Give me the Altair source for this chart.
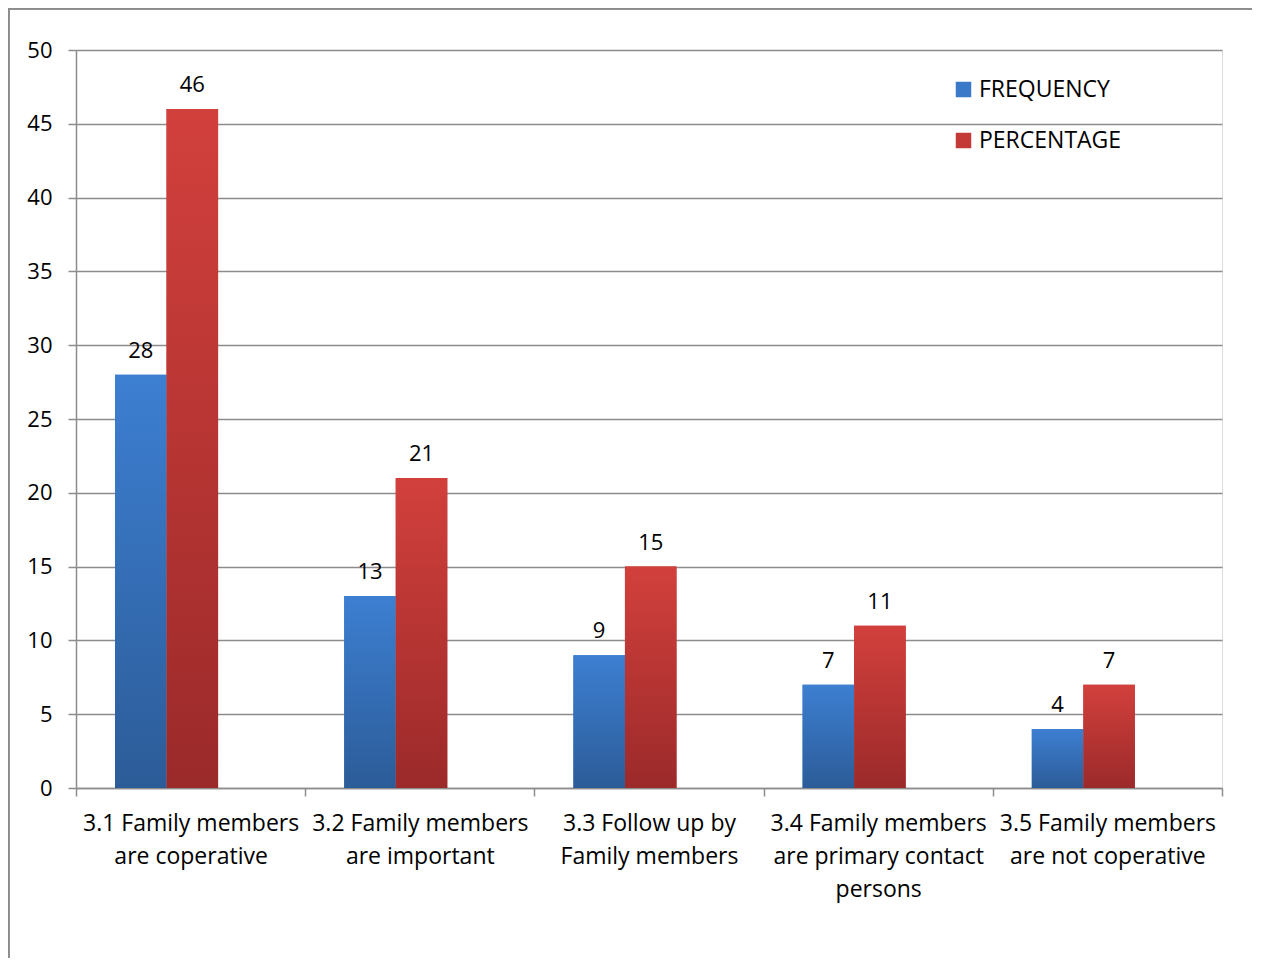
import altair as alt
import pandas as pd

categories = [
    "3.1 Family members|are coperative",
    "3.2 Family members|are important",
    "3.3 Follow up by|Family members",
    "3.4 Family members|are primary contact|persons",
    "3.5 Family members|are not coperative",
]
frequency = [28, 13, 9, 7, 4]
percentage = [46, 21, 15, 11, 7]
series = ["FREQUENCY", "PERCENTAGE"]
y_ticks = [0, 5, 10, 15, 20, 25, 30, 35, 40, 45, 50]

rows = []
for c, f, p in zip(categories, frequency, percentage):
    rows.append({"cat": c, "series": series[0], "value": f})
    rows.append({"cat": c, "series": series[1], "value": p})
df = pd.DataFrame(rows)

FONT = "Open Sans"
GRID = "#8c8c8c"

blue_grad = alt.Gradient(
    gradient="linear", x1=0, x2=0, y1=0, y2=1,
    stops=[alt.GradientStop(color="#3d7fd2", offset=0),
           alt.GradientStop(color="#2c5c98", offset=1)],
)
red_grad = alt.Gradient(
    gradient="linear", x1=0, x2=0, y1=0, y2=1,
    stops=[alt.GradientStop(color="#d2403c", offset=0),
           alt.GradientStop(color="#9b2a2a", offset=1)],
)

x_enc = alt.X(
    "cat:N", sort=categories,
    scale=alt.Scale(paddingInner=0, paddingOuter=0),
    axis=alt.Axis(
        title=None, labelAngle=0, tickBand="extent", grid=False,
        labelExpr="isValid(datum.value) ? split(datum.value, '|') : ''",
        labelFont=FONT, labelFontSize=23, labelColor="#000000",
        labelLineHeight=33, labelPadding=16, labelBaseline="top",
        labelLimit=0, tickSize=8, tickColor=GRID, domainColor=GRID,
        tickWidth=1.5, domainWidth=1.5,
    ),
)
y_enc = alt.Y(
    "value:Q",
    scale=alt.Scale(domain=[0, 50], nice=False),
    axis=alt.Axis(
        title=None, values=y_ticks, grid=True, gridColor=GRID, gridWidth=1.5,
        labelFont=FONT, labelFontSize=22, labelColor="#000000",
        labelPadding=16, tickSize=8, tickColor=GRID, domainColor=GRID,
        tickWidth=1.5, domainWidth=1.5,
    ),
)
# a spacer slot after the pair of bars puts the group slightly left of the band centre
xoff = alt.XOffset(
    "series:N",
    scale=alt.Scale(domain=series + ["_r"], paddingInner=0,
                    paddingOuter=0.7233, align=0.523),
)

base = alt.Chart(df)

bars = base.mark_bar().encode(
    x=x_enc, y=y_enc, xOffset=xoff,
    color=alt.Color(
        "series:N", sort=series,
        scale=alt.Scale(domain=series, range=["#3a78c8", "#c43a37"]),
        legend=alt.Legend(
            title=None, orient="none", legendX=876, legendY=28,
            symbolType="square", symbolSize=240, symbolStrokeWidth=0,
            labelFont=FONT, labelFontSize=23, labelColor="#000000",
            rowPadding=27, labelOffset=4, labelLimit=0,
        ),
    ),
)

blue_bars = base.transform_filter(alt.datum.series == series[0]).mark_bar(
    color=blue_grad).encode(x=x_enc, y=y_enc, xOffset=xoff)
red_bars = base.transform_filter(alt.datum.series == series[1]).mark_bar(
    color=red_grad).encode(x=x_enc, y=y_enc, xOffset=xoff)

labels = base.mark_text(
    font=FONT, fontSize=22, color="#000000", baseline="alphabetic", dy=-17
).encode(x=x_enc, y=y_enc, xOffset=xoff, text=alt.Text("value:Q"))

frame_top = base.mark_rule(color="#8c8c8c", strokeWidth=1.5, clip=False).encode(
    x=alt.value(-67.5), x2=alt.value(1300), y=alt.value(-41.5))
frame_left = base.mark_rule(color="#8c8c8c", strokeWidth=1.5, clip=False).encode(
    x=alt.value(-67.5), y=alt.value(-41.5), y2=alt.value(1000))

chart = alt.layer(bars, blue_bars, red_bars, labels, frame_top, frame_left).properties(
    width=1146, height=738,
    autosize=alt.AutoSizeParams(type="none"),
    padding={"left": 68, "top": 42, "right": 30, "bottom": 170},
).configure_view(stroke=None).configure(background="white")

chart.save("out.html", embed_options={"renderer": "svg", "actions": False})
